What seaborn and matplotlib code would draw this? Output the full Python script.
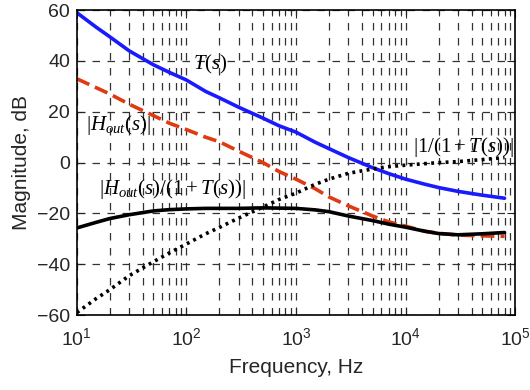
import numpy as np
import pandas as pd
import matplotlib
matplotlib.use("Agg")
import matplotlib.pyplot as plt
import seaborn as sns
from matplotlib.ticker import LogLocator, FixedLocator

# DATA (dB)

freq = [10, 15, 20, 30, 50, 70, 100, 150, 200, 300, 500, 700, 1000,
        1500, 2000, 3000, 5000, 7000, 10000, 15000, 20000, 30000, 50000, 80000]
t_s = [59, 53.3, 49.5, 44, 38.5, 35.5, 32.5, 28, 25.5, 21.8, 17.5, 14.5, 12,
       8, 5.5, 2, -2, -4.3, -6.5, -8.5, -9.8, -11.3, -12.8, -14]
h_out = [33, 29.5, 27, 23, 18.5, 15.5, 13, 10, 8.2, 4.5, 0, -3.5, -6.5,
         -10.3, -13.5, -17, -21, -23.3, -25, -27, -27.8, -28.5, -28.8, -29]
h_closed = [-25.7, -23.5, -22, -20.5, -19, -18.5, -18.2, -18, -18, -18, -17.8, -17.9, -18,
            -18.6, -19.3, -21, -22.8, -24.2, -25.4, -27, -27.9, -28.4, -28, -27.5]
sens = [-59, -53.5, -50, -44.5, -39, -35.5, -32, -28, -25.5, -21.8, -17.5, -14.5, -12,
        -8.5, -6.5, -4.2, -2.5, -1.6, -1, -0.4, 0, 0.4, 1.2, 2]

y_ticks = [-60, -40, -20, 0, 20, 40, 60]

# STYLE

sns.set_style("ticks")
plt.rcParams["font.family"] = ["Liberation Sans", "DejaVu Sans"]
plt.rcParams["mathtext.fontset"] = "custom"
plt.rcParams["mathtext.it"] = "Liberation Serif:italic"
plt.rcParams["mathtext.rm"] = "Liberation Serif"
plt.rcParams["mathtext.default"] = "it"

df = pd.DataFrame({"f": freq, "T": t_s, "Hout": h_out, "Hcl": h_closed, "S": sens})

fig = plt.figure(figsize=(5.3, 3.9), dpi=100)
ax = fig.add_axes([0.145, 0.192, 0.827, 0.782])

grid_kw = dict(color="0.2", lw=0.9, linestyle=(0, (6, 6)))
ax.set_xscale("log")
ax.set_xlim(10, 1e5)
ax.set_ylim(-60, 60)
ax.yaxis.set_major_locator(FixedLocator(y_ticks))
ax.xaxis.set_major_locator(LogLocator(base=10, numticks=10))
ax.xaxis.set_minor_locator(LogLocator(base=10, subs=np.arange(2, 10), numticks=20))
ax.grid(True, which="major", axis="both", **grid_kw)
ax.grid(True, which="minor", axis="x", **grid_kw)

sns.lineplot(data=df, x="f", y="T", ax=ax, color="#1a1aff", lw=2.6)
sns.lineplot(data=df, x="f", y="Hout", ax=ax, color="#e03a12", lw=2.6, linestyle=(0, (3.8, 1.7)))
sns.lineplot(data=df, x="f", y="Hcl", ax=ax, color="black", lw=2.6)
sns.lineplot(data=df, x="f", y="S", ax=ax, color="black", lw=2.6, linestyle=(0, (0.8, 1.2)))

ax.set_xlim(10, 1e5)
ax.set_ylim(-60, 60)
ax.set_xlabel("Frequency, Hz", fontsize=15, labelpad=6)
ax.set_ylabel("Magnitude, dB", fontsize=15, labelpad=4)
ax.tick_params(axis="both", which="both", direction="in", top=True, right=True)
ax.tick_params(axis="y", which="major", length=6, pad=5, labelsize=14)
ax.tick_params(axis="x", which="major", length=6, pad=9, labelsize=14)
ax.tick_params(axis="x", which="minor", length=4)
for s in ["top", "right", "left", "bottom"]:
    ax.spines[s].set_linewidth(1.2)
    ax.spines[s].set_color("black")

fig.canvas.draw()
xlabels = ax.get_xticklabels()
xlabels[-1].set_horizontalalignment("right")
xlabels[-1].set_x(1e5 * 1.12)

# LABELS

lab_kw = dict(fontsize=15, ha="center", va="center", color="black")
ax.text(165, 38.7, r"$T(s)$", **lab_kw)
ax.text(24.2, 14.7, r"$|H_{out}(s)|$", **lab_kw)
ax.text(33500, 6.1, r"$|1/(1+T(s))|$", **lab_kw)
ax.text(75, -10.5, r"$|H_{out}(s)/(1+T(s))|$", **lab_kw)

fig.savefig("out.png", dpi=100)
